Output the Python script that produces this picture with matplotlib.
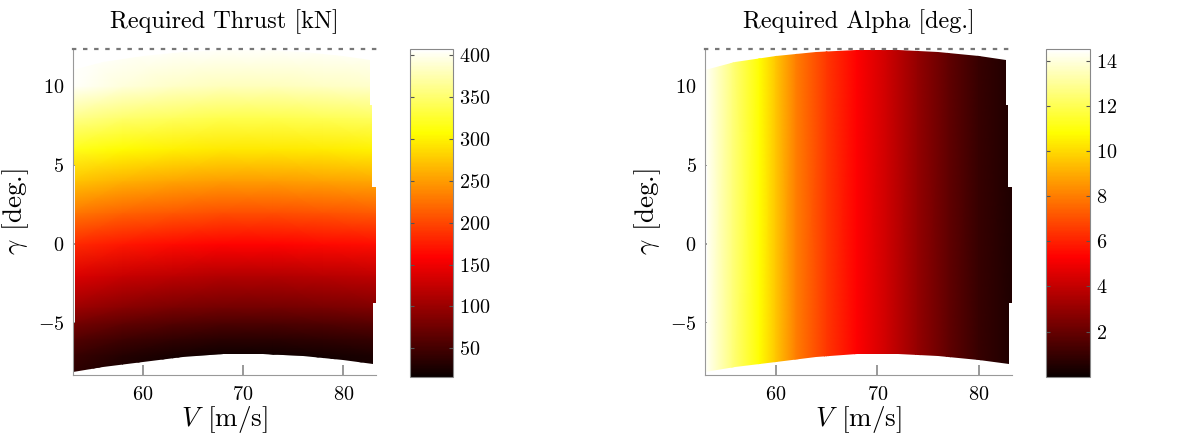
import numpy as np
import matplotlib.pyplot as plt
from matplotlib.patches import Polygon

plt.rcParams['font.family'] = 'serif'
plt.rcParams['font.serif'] = ['cmr10']
plt.rcParams['mathtext.fontset'] = 'cm'
plt.rcParams['axes.formatter.use_mathtext'] = True

# flight envelope boundary (V in m/s, gamma in deg)
top_V = [53.05, 56, 60, 64, 68, 72, 76, 80, 82.65]
top_gam = [11.05, 11.55, 11.9, 12.15, 12.28, 12.28, 12.15, 11.9, 11.65]
right_V = [82.65, 82.9, 82.9, 83.4, 83.4, 83.0, 83.0]
right_gam = [8.8, 8.8, 3.65, 3.65, -3.7, -3.7, -7.55]
bot_V = [83.0, 80, 76, 72, 68, 64, 60, 56, 53.05]
bot_gam = [-7.55, -7.35, -7.1, -6.95, -6.95, -7.12, -7.45, -7.75, -8.1]
left_V = [53.05, 53.25, 53.25, 53.05]
left_gam = [-5.0, -5.0, 5.0, 5.0]

# required thrust [kN], rows = gamma, cols = V
thrust_V = [53, 58, 63, 68, 73, 78, 83.5]
thrust_gam = [-8.5, -7, -6, -5, -4, -2, 0, 2, 4, 6, 8, 10, 12.5]
thrust = [
    [34, 22, 15, 10, 10, 13, 17],
    [44, 32, 25, 20, 20, 23, 27],
    [59, 47, 40, 35, 35, 38, 42],
    [79, 67, 60, 55, 55, 58, 62],
    [102, 90, 83, 78, 78, 81, 85],
    [139, 127, 120, 115, 115, 118, 122],
    [184, 172, 165, 160, 160, 163, 167],
    [229, 217, 210, 205, 205, 208, 212],
    [274, 262, 255, 250, 250, 253, 257],
    [318, 306, 299, 294, 294, 297, 301],
    [362, 350, 343, 338, 338, 341, 345],
    [404, 392, 385, 380, 380, 383, 387],
    [439, 427, 420, 415, 415, 418, 422],
]

# required alpha [deg], depends on V only
alpha_V = [53.0, 55.7, 58.4, 60.0, 62.0, 65.0, 68.0, 71.0, 74.0, 77.0, 80.0, 83.5]
alpha_vals = [14.5, 12.6, 10.8, 9.6, 8.0, 6.5, 5.3, 4.2, 3.0, 1.9, 1.0, 0.4]
alpha_gam = [-8.5, 12.5]

fig = plt.figure(figsize=(11.94, 4.37), dpi=100)

env = list(zip(top_V, top_gam)) + list(zip(right_V, right_gam)) + \
    list(zip(bot_V, bot_gam)) + list(zip(left_V, left_gam))


def panel(ax, cax, X, Y, C, clim, cticks, title):
    mesh = ax.pcolormesh(X, Y, C, cmap='hot', shading='gouraud',
                         vmin=clim[0], vmax=clim[1])
    poly = Polygon(env, closed=True, transform=ax.transData,
                   facecolor='none', edgecolor='none')
    mesh.set_clip_path(poly)
    ax.set_xlim(53.03, 83.25)
    ax.set_ylim(-8.27, 12.32)
    ax.set_axisbelow(True)
    ax.set_xticks([60, 70, 80])
    ax.set_yticks([-5, 0, 5, 10])
    ax.tick_params(direction='in', color='#888888', labelsize=14.5, width=1.2)
    ax.tick_params(axis='x', length=7, pad=8)
    ax.tick_params(axis='y', length=4, pad=6)
    for s in ['left', 'bottom']:
        ax.spines[s].set_color('#999999')
    ax.spines['right'].set_visible(False)
    ax.spines['top'].set_linestyle((0, (1, 4)))
    ax.spines['top'].set_linewidth(1.6)
    ax.spines['top'].set_color('#777777')
    ax.set_title(title, fontsize=17.5, pad=15)
    ax.set_xlabel(r'$V\;\,$[m/s]', fontsize=19.5, labelpad=0)
    ax.set_ylabel(r'$\gamma\;\,$[deg.]', fontsize=19.5, labelpad=5)

    cb = fig.colorbar(mesh, cax=cax)
    cb.set_ticks(cticks)
    cb.outline.set_edgecolor('#888888')
    cb.ax.tick_params(direction='in', length=3, color='#555555',
                      left=True, right=True, labelsize=14.5, pad=4)


ax1 = fig.add_axes([0.0609, 0.1419, 0.254, 0.745])
cax1 = fig.add_axes([0.3434, 0.138, 0.0363, 0.749])
Vt, Gt = np.meshgrid(thrust_V, thrust_gam)
panel(ax1, cax1, Vt, Gt, np.array(thrust), (16, 407),
      [50, 100, 150, 200, 250, 300, 350, 400], 'Required Thrust [kN]')

ax2 = fig.add_axes([0.5905, 0.1419, 0.2569, 0.745])
cax2 = fig.add_axes([0.876, 0.138, 0.0369, 0.749])
Va, Ga = np.meshgrid(alpha_V, alpha_gam)
Ca = np.tile(alpha_vals, (len(alpha_gam), 1))
panel(ax2, cax2, Va, Ga, Ca, (0, 14.5), [2, 4, 6, 8, 10, 12, 14],
      'Required Alpha [deg.]')

fig.savefig('out.png', dpi=100)
